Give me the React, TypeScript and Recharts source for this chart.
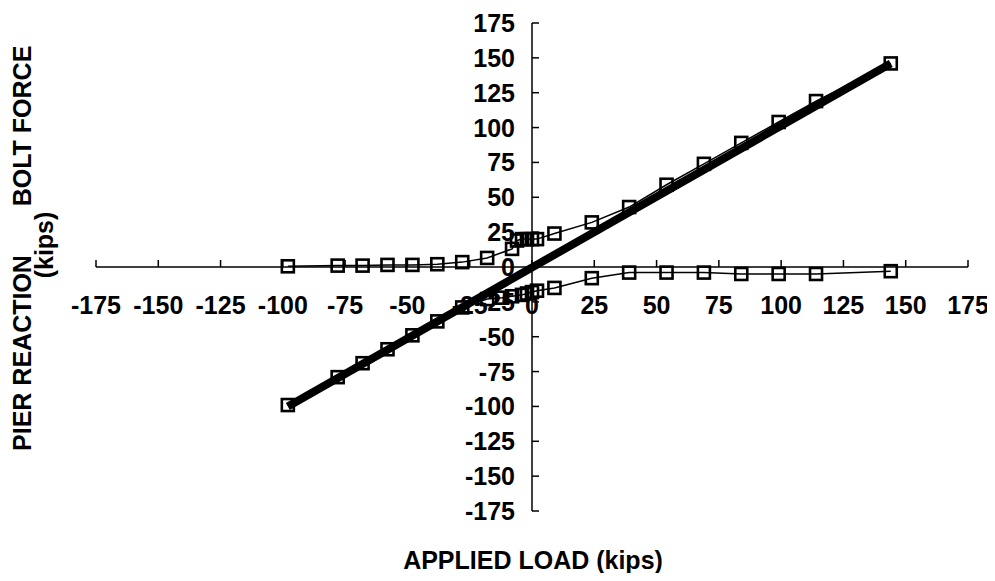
import React from 'react';
import { ComposedChart, Line, XAxis, YAxis, ReferenceLine } from 'recharts';

// ---- data (kips) ----
const boltLoads = [-98, -78, -68, -58, -48, -38, -28, -18, -8, -6, -4, -2, 0, 2, 9, 24, 39, 54, 69, 84, 99, 114, 144];
const boltForce = [0.5, 1, 1, 1.5, 1.5, 2, 3.5, 6.5, 13, 19, 20, 20, 20, 20, 24, 32, 43, 59, 74, 89, 104, 119, 146];

const pierLoads = [-98, -78, -68, -58, -48, -38, -28, -18, -12, -8, -4, -2, 0, 2, 9, 24, 39, 54, 69, 84, 99, 114, 144];
const pierReaction = [-99, -79, -69, -59, -49, -39, -29, -23, -22, -21, -20, -19, -18, -17, -15, -8, -4, -4, -4, -5, -5, -5, -3];

const appliedLoads = [-98, 144];
const appliedValues = [-100, 146];

const xTicks = [-175, -150, -125, -100, -75, -50, -25, 0, 25, 50, 75, 100, 125, 150, 175];
const yTicks = [-175, -150, -125, -100, -75, -50, -25, 0, 25, 50, 75, 100, 125, 150, 175];

const boltData = boltLoads.map((x, i) => ({ x, y: boltForce[i] }));
const pierData = pierLoads.map((x, i) => ({ x, y: pierReaction[i] }));
const appliedData = appliedLoads.map((x, i) => ({ x, y: appliedValues[i] }));

// ---- layout ----
const W = 980;
const H = 565;
const XAXIS_H = 40;
const YAXIS_W = 40;
const PLOT_LEFT = 88;
const PLOT_TOP = 15;
const PLOT_RIGHT_GAP = 20;
const PLOT_BOTTOM_GAP = 62;
const M = { top: PLOT_TOP, right: PLOT_RIGHT_GAP, bottom: PLOT_BOTTOM_GAP - XAXIS_H, left: PLOT_LEFT - YAXIS_W };
const PLOT_W = W - PLOT_LEFT - PLOT_RIGHT_GAP;
const PLOT_H = H - PLOT_TOP - PLOT_BOTTOM_GAP;
const X_MIN = -175, X_MAX = 175, Y_MIN = -175, Y_MAX = 175;
const X0 = PLOT_LEFT + (PLOT_W * (0 - X_MIN)) / (X_MAX - X_MIN);
const Y0 = PLOT_TOP + (PLOT_H * (Y_MAX - 0)) / (Y_MAX - Y_MIN);

const FONT = '"Liberation Sans", Arial, Helvetica, sans-serif';
const FS = 25;

const XTick = (props: any) => {
  const { x, payload } = props;
  return (
    <g>
      <line x1={x} x2={x} y1={Y0} y2={Y0 - 7} stroke="#000" strokeWidth={1.5} />
      <text x={x} y={Y0 + 47} textAnchor="middle" fontFamily={FONT} fontWeight="bold" fontSize={FS} fill="#000">
        {payload.value}
      </text>
    </g>
  );
};

const YTick = (props: any) => {
  const { y, payload } = props;
  return (
    <g>
      <line x1={X0} x2={X0 + 7} y1={y} y2={y} stroke="#000" strokeWidth={1.5} />
      <text x={X0 - 17} y={y + 9} textAnchor="end" fontFamily={FONT} fontWeight="bold" fontSize={FS} fill="#000">
        {payload.value}
      </text>
    </g>
  );
};

const SquareDot = (props: any) => {
  const { cx, cy, index } = props;
  if (cx == null || cy == null) return <g key={index} />;
  const s = 12;
  return (
    <rect key={index} x={cx - s / 2} y={cy - s / 2} width={s} height={s} fill="none" stroke="#000" strokeWidth={2.6} />
  );
};

export default function App() {
  return (
    <div style={{ position: 'relative', width: W, height: H, background: '#fff' }}>
      <ComposedChart width={W} height={H} margin={M}>
        <XAxis
          dataKey="x"
          type="number"
          domain={[X_MIN, X_MAX]}
          ticks={xTicks}
          interval={0}
          height={XAXIS_H}
          axisLine={false}
          tickLine={false}
          tick={XTick}
          allowDataOverflow
        />
        <YAxis
          dataKey="y"
          type="number"
          domain={[Y_MIN, Y_MAX]}
          ticks={yTicks}
          interval={0}
          width={YAXIS_W}
          axisLine={false}
          tickLine={false}
          tick={YTick}
          allowDataOverflow
        />
        <ReferenceLine y={0} stroke="#000" strokeWidth={1.5} />
        <ReferenceLine x={0} stroke="#000" strokeWidth={1.5} />
        <Line
          data={boltData}
          dataKey="y"
          type="linear"
          stroke="#000"
          strokeWidth={1.5}
          dot={<SquareDot />}
          activeDot={false}
          isAnimationActive={false}
        />
        <Line
          data={pierData}
          dataKey="y"
          type="linear"
          stroke="#000"
          strokeWidth={1.5}
          dot={<SquareDot />}
          activeDot={false}
          isAnimationActive={false}
        />
        <Line
          data={appliedData}
          dataKey="y"
          type="linear"
          stroke="#000"
          strokeWidth={8}
          dot={false}
          activeDot={false}
          isAnimationActive={false}
        />
      </ComposedChart>
      <svg width={W} height={H} style={{ position: 'absolute', left: 0, top: 0, pointerEvents: 'none' }}>
        <text x={X0 + 1} y={561} textAnchor="middle" fontFamily={FONT} fontWeight="bold" fontSize={FS} fill="#000">
          APPLIED LOAD (kips)
        </text>
        <text
          transform={`translate(23, 345) rotate(-90)`}
          textAnchor="middle"
          fontFamily={FONT}
          fontWeight="bold"
          fontSize={FS}
          fill="#000"
        >
          PIER REACTION
        </text>
        <text
          transform={`translate(23, 118) rotate(-90)`}
          textAnchor="middle"
          fontFamily={FONT}
          fontWeight="bold"
          fontSize={FS}
          fill="#000"
        >
          BOLT FORCE
        </text>
        <text
          transform={`translate(45, 237) rotate(-90)`}
          textAnchor="middle"
          fontFamily={FONT}
          fontWeight="bold"
          fontSize={FS}
          fill="#000"
        >
          (kips)
        </text>
      </svg>
    </div>
  );
}
